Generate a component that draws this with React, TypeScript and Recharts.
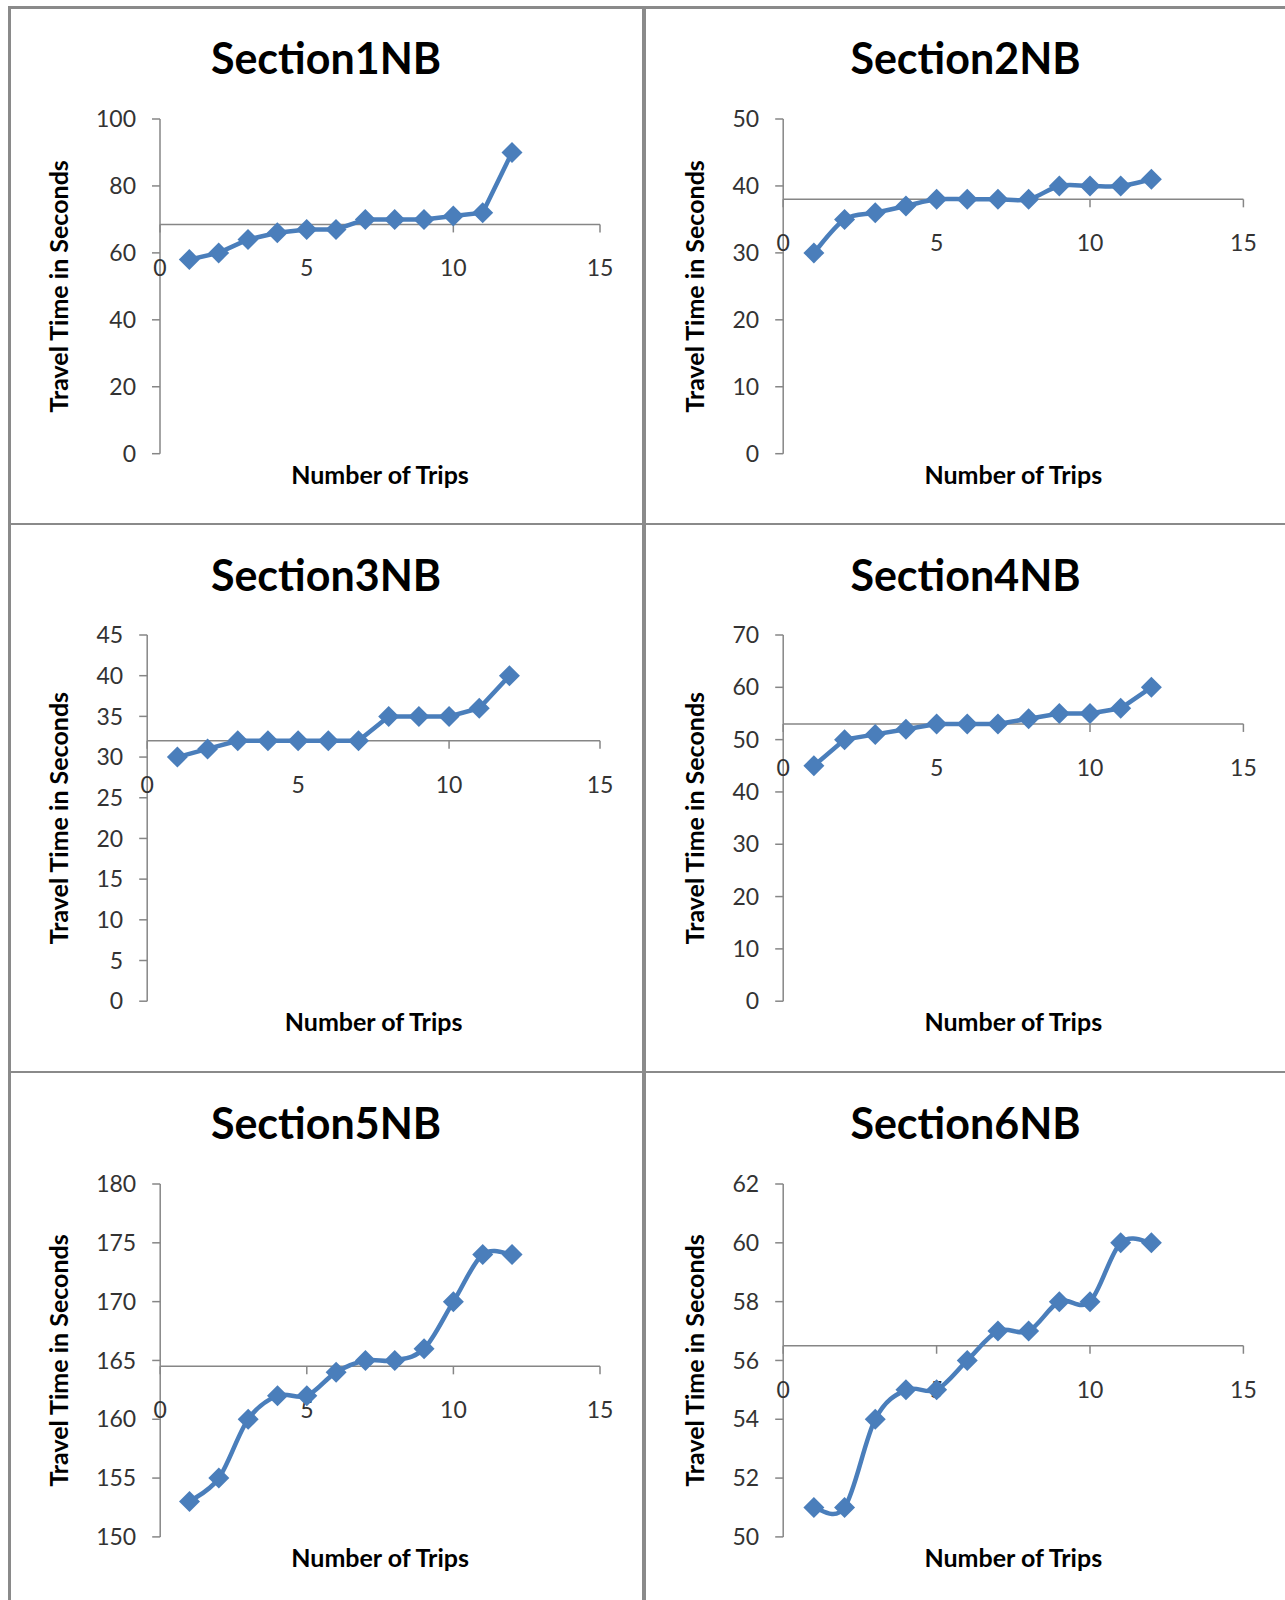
import { Line, LineChart, ReferenceDot, ReferenceLine, XAxis, YAxis } from 'recharts';

const TRIPS = [1, 2, 3, 4, 5, 6, 7, 8, 9, 10, 11, 12];
const SECTION1 = [58, 60, 64, 66, 67, 67, 70, 70, 70, 71, 72, 90];
const SECTION2 = [30, 35, 36, 37, 38, 38, 38, 38, 40, 40, 40, 41];
const SECTION3 = [30, 31, 32, 32, 32, 32, 32, 35, 35, 35, 36, 40];
const SECTION4 = [45, 50, 51, 52, 53, 53, 53, 54, 55, 55, 56, 60];
const SECTION5 = [153, 155, 160, 162, 162, 164, 165, 165, 166, 170, 174, 174];
const SECTION6 = [51, 51, 54, 55, 55, 56, 57, 57, 58, 58, 60, 60];

const TITLES = ['Section1NB', 'Section2NB', 'Section3NB', 'Section4NB', 'Section5NB', 'Section6NB'];
const SERIES = [SECTION1, SECTION2, SECTION3, SECTION4, SECTION5, SECTION6];
const Y_TICKS = [
  [0, 20, 40, 60, 80, 100],
  [0, 10, 20, 30, 40, 50],
  [0, 5, 10, 15, 20, 25, 30, 35, 40, 45],
  [0, 10, 20, 30, 40, 50, 60, 70],
  [150, 155, 160, 165, 170, 175, 180],
  [50, 52, 54, 56, 58, 60, 62],
];
const X_TICKS = [0, 5, 10, 15];
// where the horizontal axis crosses the value axis
const AXIS_CROSS = [68.5, 38, 32, 53, 164.5, 56.5];
const SMOOTHED = [false, true, false, false, true, true];

const X_LABEL = 'Number of Trips';
const Y_LABEL = 'Travel Time in Seconds';

const LINE_COLOR = '#4a7ebb';
const AXIS_COLOR = '#868686';
const BORDER_COLOR = '#8a8a8a';
const TICK_COLOR = '#333333';
const FONT = 'Lato, "Noto Sans", sans-serif';

// page layout of the 2 x 3 grid
const COLS = [
  { left: 10, width: 632, right: 42 },
  { left: 646, width: 639, right: 41.6 },
];
const ROWS = [
  { top: 8, height: 515, plotTop: 111, plotBottom: 445.7 },
  { top: 525, height: 546, plotTop: 110, plotBottom: 476.2 },
  { top: 1073, height: 527, plotTop: 111, plotBottom: 463.9 },
];
const PLOT_LEFT = [150, 137.2, 137.2, 137.2, 150.2, 137.2];

// Excel-like smoothed line (Catmull-Rom as cubic bezier)
const excelSmooth = (context: any) => {
  let pts: Array<[number, number]> = [];
  return {
    areaStart() {},
    areaEnd() {},
    lineStart() {
      pts = [];
    },
    point(x: number, y: number) {
      pts.push([+x, +y]);
    },
    lineEnd() {
      if (!pts.length) return;
      context.moveTo(pts[0][0], pts[0][1]);
      for (let i = 0; i < pts.length - 1; i += 1) {
        const p0 = pts[i - 1] ?? pts[i];
        const p1 = pts[i];
        const p2 = pts[i + 1];
        const p3 = pts[i + 2] ?? p2;
        context.bezierCurveTo(
          p1[0] + (p2[0] - p0[0]) / 6,
          p1[1] + (p2[1] - p0[1]) / 6,
          p2[0] - (p3[0] - p1[0]) / 6,
          p2[1] - (p3[1] - p1[1]) / 6,
          p2[0],
          p2[1]
        );
      }
    },
  };
};

const renderDiamond = (props: any) => {
  const { cx, cy, index } = props;
  if (cx == null || cy == null) return <g key={`d-${index}`} />;
  const s = 10.5;
  return (
    <polygon
      key={`d-${index}`}
      points={`${cx},${cy - s} ${cx + s},${cy} ${cx},${cy + s} ${cx - s},${cy}`}
      fill={LINE_COLOR}
    />
  );
};

const renderCrossTick = (props: any) => {
  const { viewBox, value } = props;
  const x = viewBox.x + viewBox.width / 2;
  const y = viewBox.y + viewBox.height / 2;
  return (
    <g>
      <line x1={x} y1={y} x2={x} y2={y + 8} stroke={AXIS_COLOR} strokeWidth={1.5} />
      <text
        x={x}
        y={y + 43}
        textAnchor="middle"
        dominantBaseline="central"
        fill={TICK_COLOR}
        fontSize={23}
        fontFamily={FONT}
      >
        {value}
      </text>
    </g>
  );
};

const renderXTitle = (props: any) => {
  const { viewBox } = props;
  return (
    <text
      x={viewBox.x + viewBox.width / 2}
      y={viewBox.y + 30}
      textAnchor="middle"
      fontSize={25}
      fontWeight={700}
      fontFamily={FONT}
      fill="#000"
    >
      {X_LABEL}
    </text>
  );
};

const renderYTitle = (props: any) => {
  const { viewBox } = props;
  const x = viewBox.x + 58.5;
  const y = viewBox.y + viewBox.height / 2;
  return (
    <text
      x={x}
      y={y}
      transform={`rotate(-90 ${x} ${y})`}
      textAnchor="middle"
      fontSize={25}
      fontWeight={700}
      fontFamily={FONT}
      fill="#000"
    >
      {Y_LABEL}
    </text>
  );
};

function SectionChart({ index }: { index: number }) {
  const col = COLS[index % 2];
  const row = ROWS[Math.floor(index / 2)];
  const values = SERIES[index];
  const yTicks = Y_TICKS[index];
  const cross = AXIS_CROSS[index];
  const data = TRIPS.map((trip, i) => ({ trip, value: values[i] }));

  return (
    <div
      style={{
        position: 'absolute',
        left: col.left,
        top: row.top,
        width: col.width,
        height: row.height,
      }}
    >
      <LineChart
        width={col.width}
        height={row.height}
        data={data}
        margin={{ top: row.plotTop, right: col.right, bottom: 0, left: 0 }}
      >
        <XAxis
          type="number"
          dataKey="trip"
          domain={[0, 15]}
          ticks={X_TICKS}
          height={row.height - row.plotBottom}
          axisLine={false}
          tickLine={false}
          tick={false}
          label={{ content: renderXTitle }}
        />
        <YAxis
          type="number"
          domain={[yTicks[0], yTicks[yTicks.length - 1]]}
          ticks={yTicks}
          interval={0}
          width={PLOT_LEFT[index]}
          axisLine={{ stroke: AXIS_COLOR, strokeWidth: 1.5 }}
          tickLine={{ stroke: AXIS_COLOR, strokeWidth: 1.5 }}
          tickSize={8}
          tickMargin={16}
          tick={{ fill: TICK_COLOR, fontSize: 23, fontFamily: FONT }}
          label={{ content: renderYTitle }}
        />
        <ReferenceLine y={cross} stroke={AXIS_COLOR} strokeWidth={1.5} />
        {X_TICKS.map(t => (
          <ReferenceDot
            key={t}
            x={t}
            y={cross}
            r={1}
            fill="none"
            stroke="none"
            label={{ value: t, content: renderCrossTick }}
          />
        ))}
        <Line
          type={SMOOTHED[index] ? (excelSmooth as any) : 'linear'}
          dataKey="value"
          stroke={LINE_COLOR}
          strokeWidth={4.5}
          dot={renderDiamond}
          activeDot={false}
          isAnimationActive={false}
        />
      </LineChart>
      <div
        style={{
          position: 'absolute',
          left: 0,
          top: 28,
          width: '100%',
          textAlign: 'center',
          fontFamily: FONT,
          fontWeight: 700,
          fontSize: 43,
          lineHeight: '43px',
          color: '#000',
        }}
      >
        {TITLES[index]}
      </div>
    </div>
  );
}

export default function App() {
  const line = (style: React.CSSProperties) => (
    <div style={{ position: 'absolute', background: BORDER_COLOR, ...style }} />
  );
  return (
    <div
      style={{
        position: 'absolute',
        left: 0,
        top: 0,
        width: 1285,
        height: 1600,
        overflow: 'hidden',
        background: '#fff',
        fontFamily: FONT,
      }}
    >
      {TITLES.map((_, i) => (
        <SectionChart key={i} index={i} />
      ))}
      {line({ left: 8, top: 6, width: 1277, height: 2.5 })}
      {line({ left: 8, top: 6, width: 2.5, height: 1594 })}
      {line({ left: 642, top: 6, width: 4, height: 1594 })}
      {line({ left: 8, top: 522.5, width: 1277, height: 2 })}
      {line({ left: 8, top: 1071, width: 1277, height: 2 })}
    </div>
  );
}
